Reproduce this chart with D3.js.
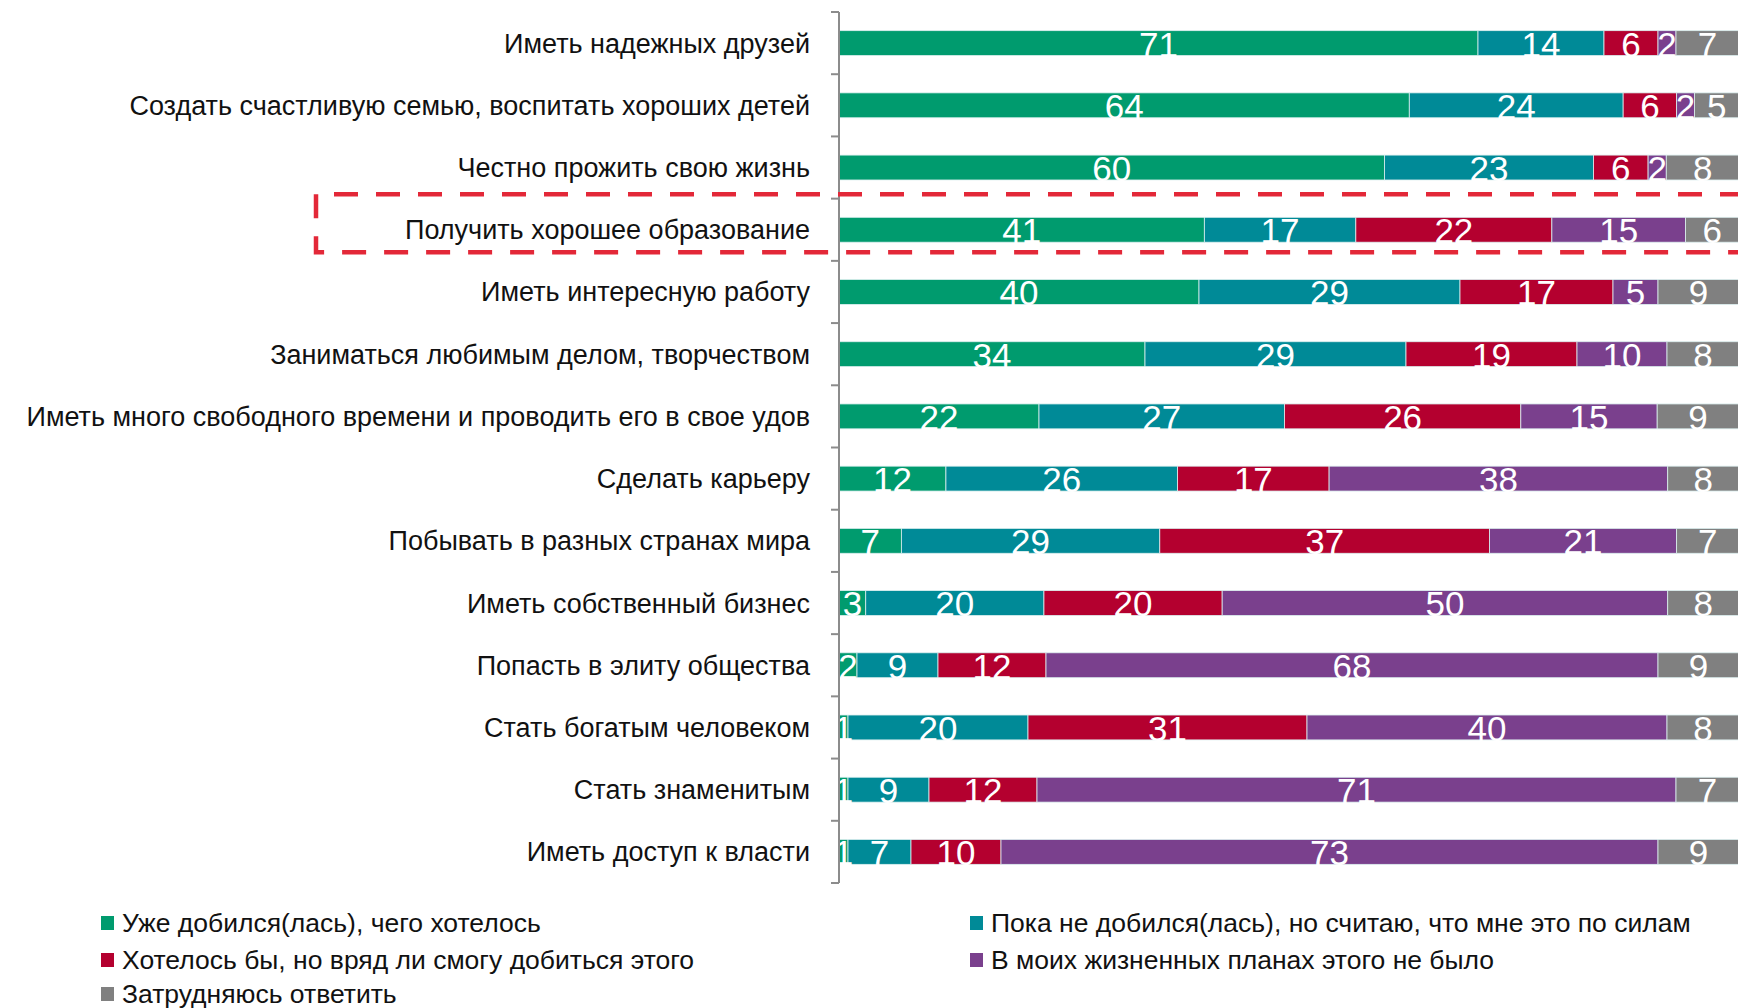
<!DOCTYPE html>
<html><head><meta charset="utf-8">
<script src="https://cdn.jsdelivr.net/npm/d3@7"></script>
<style>
html,body{margin:0;padding:0;background:#fff;overflow:hidden}
svg{display:block;font-family:"Liberation Sans",Arial,sans-serif}
</style></head>
<body><svg id="c" width="1738" height="1008"></svg>
<script>
const categories = [
  "Иметь надежных друзей",
  "Создать счастливую семью, воспитать хороших детей",
  "Честно прожить свою жизнь",
  "Получить хорошее образование",
  "Иметь интересную работу",
  "Заниматься любимым делом, творчеством",
  "Иметь много свободного времени и проводить его в свое удов",
  "Сделать карьеру",
  "Побывать в разных странах мира",
  "Иметь собственный бизнес",
  "Попасть в элиту общества",
  "Стать богатым человеком",
  "Стать знаменитым",
  "Иметь доступ к власти"
];
const seriesNames = [
  "Уже добился(лась), чего хотелось",
  "Пока не добился(лась), но считаю, что мне это по силам",
  "Хотелось бы, но вряд ли смогу добиться этого",
  "В моих жизненных планах этого не было",
  "Затрудняюсь ответить"
];
const achieved   = [71,64,60,41,40,34,22,12, 7, 3, 2, 1, 1, 1];
const possible   = [14,24,23,17,29,29,27,26,29,20, 9,20, 9, 7];
const unlikely   = [ 6, 6, 6,22,17,19,26,17,37,20,12,31,12,10];
const notPlanned = [ 2, 2, 2,15, 5,10,15,38,21,50,68,40,71,73];
const hardToSay  = [ 7, 5, 8, 6, 9, 8, 9, 8, 7, 8, 9, 8, 7, 9];
const highlighted = "Получить хорошее образование";

const colors = ["#009b6e","#008a97","#b4002f","#7a408d","#808080"];
const seriesData = [achieved, possible, unlikely, notPlanned, hardToSay];
const keys = ["s0","s1","s2","s3","s4"];
const table = categories.map((c,i)=>{
  const o = {cat:c};
  keys.forEach((k,j)=>o[k]=seriesData[j][i]);
  return o;
});

const svg = d3.select("#c");
const x0 = 839, x1 = 1739, yTop = 12, yBot = 883;
const x = d3.scaleLinear().domain([0,1]).range([x0,x1]);
const y = d3.scaleBand().domain(categories).range([yTop,yBot]).paddingInner(0.6).paddingOuter(0.3);
const stack = d3.stack().keys(keys).offset(d3.stackOffsetExpand)(table);

const layer = svg.append("g").selectAll("g").data(stack).join("g")
  .attr("fill",(d,i)=>colors[i]);
layer.selectAll("rect").data(d=>d).join("rect")
  .attr("x",d=>x(d[0]))
  .attr("y",d=>y(d.data.cat))
  .attr("width",d=>x(d[1])-x(d[0]))
  .attr("height",y.bandwidth())
  .attr("stroke","#dcefef").attr("stroke-width",0.8);

// value labels
const lab = svg.append("g").attr("fill","#fff").attr("font-size",35).attr("text-anchor","middle");
stack.forEach((s,i)=>{
  lab.selectAll(null).data(s).join("text")
    .attr("x",d=>(x(d[0])+x(d[1]))/2)
    .attr("y",d=>y(d.data.cat)+y.bandwidth()+1)
    .text(d=>d.data[s.key]);
});

// axis
const boundaries = d3.range(categories.length+1).map(i=>yTop+i*(yBot-yTop)/categories.length);
const ax = svg.append("g").attr("stroke","#8c8c8c");
ax.append("line").attr("x1",x0).attr("x2",x0).attr("y1",yTop).attr("y2",yBot).attr("stroke-width",2);
ax.selectAll("line.t").data(boundaries).join("line").attr("class","t")
  .attr("x1",x0-8).attr("x2",x0).attr("y1",d=>d).attr("y2",d=>d).attr("stroke-width",2);

// category labels
svg.append("g").attr("font-size",27).attr("fill","#111").attr("text-anchor","end")
  .selectAll("text").data(categories).join("text")
  .attr("x",810)
  .attr("y",d=>y(d)+y.bandwidth()/2+9.5)
  .text(d=>d);

// highlight dashed box
const hy0 = y(highlighted)-23, hy1 = y(highlighted)+y.bandwidth()+10;
const box = svg.append("g").attr("fill","none").attr("stroke","#e32838").attr("stroke-width",4.5).attr("stroke-dasharray","24 18");
box.append("path").attr("d",`M316,${hy0}H1760`).attr("stroke-dashoffset",24);
box.append("path").attr("d",`M316,${hy0}V${hy1}H1760`);

// legend
const legPos = [[101,923],[970,923],[101,960],[970,960],[101,994]];
const lg = svg.append("g").attr("font-size",26.5).attr("fill","#111");
seriesNames.forEach((n,i)=>{
  const [lx,ly] = legPos[i];
  lg.append("rect").attr("x",lx).attr("y",ly-7).attr("width",13).attr("height",14).attr("fill",colors[i]);
  lg.append("text").attr("x",lx+21).attr("y",ly+9).text(n);
});
</script></body></html>
